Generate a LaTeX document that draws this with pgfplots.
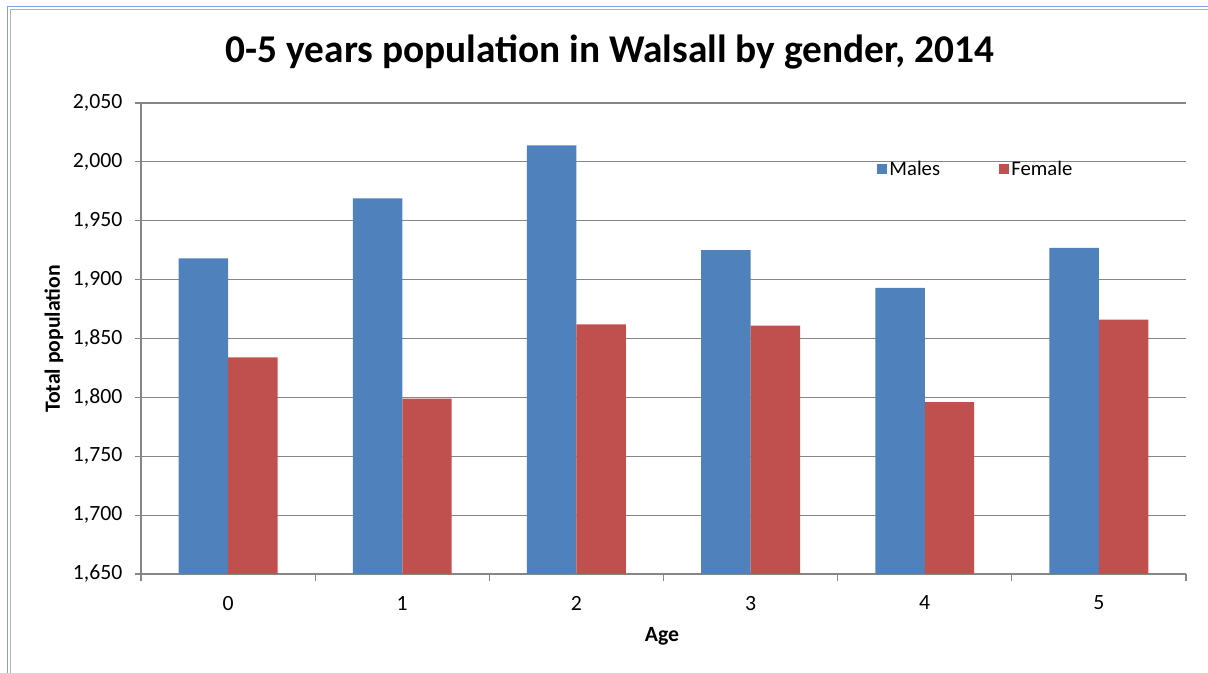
\documentclass[border=0pt]{standalone}
\usepackage{fontspec}
\setmainfont{Carlito}
\usepackage{pgfplots}
\pgfplotsset{compat=1.18}
\definecolor{males}{HTML}{4F81BD}
\definecolor{female}{HTML}{C0504D}
\definecolor{gridc}{HTML}{868686}
\definecolor{frameblue}{HTML}{7EA6D8}
\begin{document}
\begin{tikzpicture}
\useasboundingbox (0pt,0pt) rectangle (906pt,504.75pt);
\draw[frameblue,line width=1.2pt] (5.625pt,0pt) -- (5.625pt,499.875pt) -- (906pt,499.875pt);
\draw[gray!60,line width=1.2pt] (7.875pt,0pt) -- (7.875pt,497.625pt) -- (906pt,497.625pt);
\begin{axis}[
  at={(105.75pt,74.25pt)}, anchor=south west, scale only axis,
  width=783.75pt, height=353.25pt,
  xmin=-0.5, xmax=5.5, ymin=1650, ymax=2050,
  axis x line=bottom, axis y line=left,
  axis line style={-, gridc, line width=0.9pt},
  ymajorgrids, grid style={gridc, line width=0.9pt},
  ytick={1650,1700,...,2050},
  xtick={0,1,2,3,4,5},
  minor xtick={-0.5,0.5,1.5,2.5,3.5,4.5,5.5},
  tick align=outside,
  major tick length=4.5pt, minor tick length=5.25pt,
  major tick style={gridc, line width=0.9pt},
  minor tick style={gridc, line width=0.9pt},
  major x tick style={draw=none},
  ticklabel style={font=\fontsize{16.3}{19}\selectfont, text=black},
  xticklabel style={yshift=-8.5pt},
  yticklabel style={xshift=-6pt},
  /pgf/number format/.cd, 1000 sep={,}, assume math mode=true,
  /pgfplots/.cd,
  legend columns=2,
  legend style={draw=none, fill=none, at={(0.70,0.86)}, anchor=west,
    font=\fontsize{15.5}{18}\selectfont,
    /tikz/every even column/.append style={column sep=42pt}},
  legend image code/.code={\fill[#1] (0pt,-3.75pt) rectangle (7.5pt,3.75pt);},
]
\addplot[ybar, bar width=0.284, bar shift=-0.142, fill=males, draw=none]
  coordinates {(0,1918) (1,1969) (2,2014) (3,1925) (4,1893) (5,1927)};
\addlegendentry{Males}
\addplot[ybar, bar width=0.284, bar shift=0.142, fill=female, draw=none]
  coordinates {(0,1834) (1,1799) (2,1862) (3,1861) (4,1796) (5,1866)};
\addlegendentry{Female}
\end{axis}
\node[anchor=base, font=\bfseries\fontsize{29.5}{34}\selectfont] at (457.5pt,457.5pt) {0-5 years population in Walsall by gender, 2014};
\node[anchor=base, font=\bfseries\fontsize{16.3}{19}\selectfont] at (496.5pt,23.25pt) {Age};
\node[anchor=base, rotate=90, font=\bfseries\fontsize{16.3}{19}\selectfont] at (45pt,250.5pt) {Total population};
\end{tikzpicture}
\end{document}
